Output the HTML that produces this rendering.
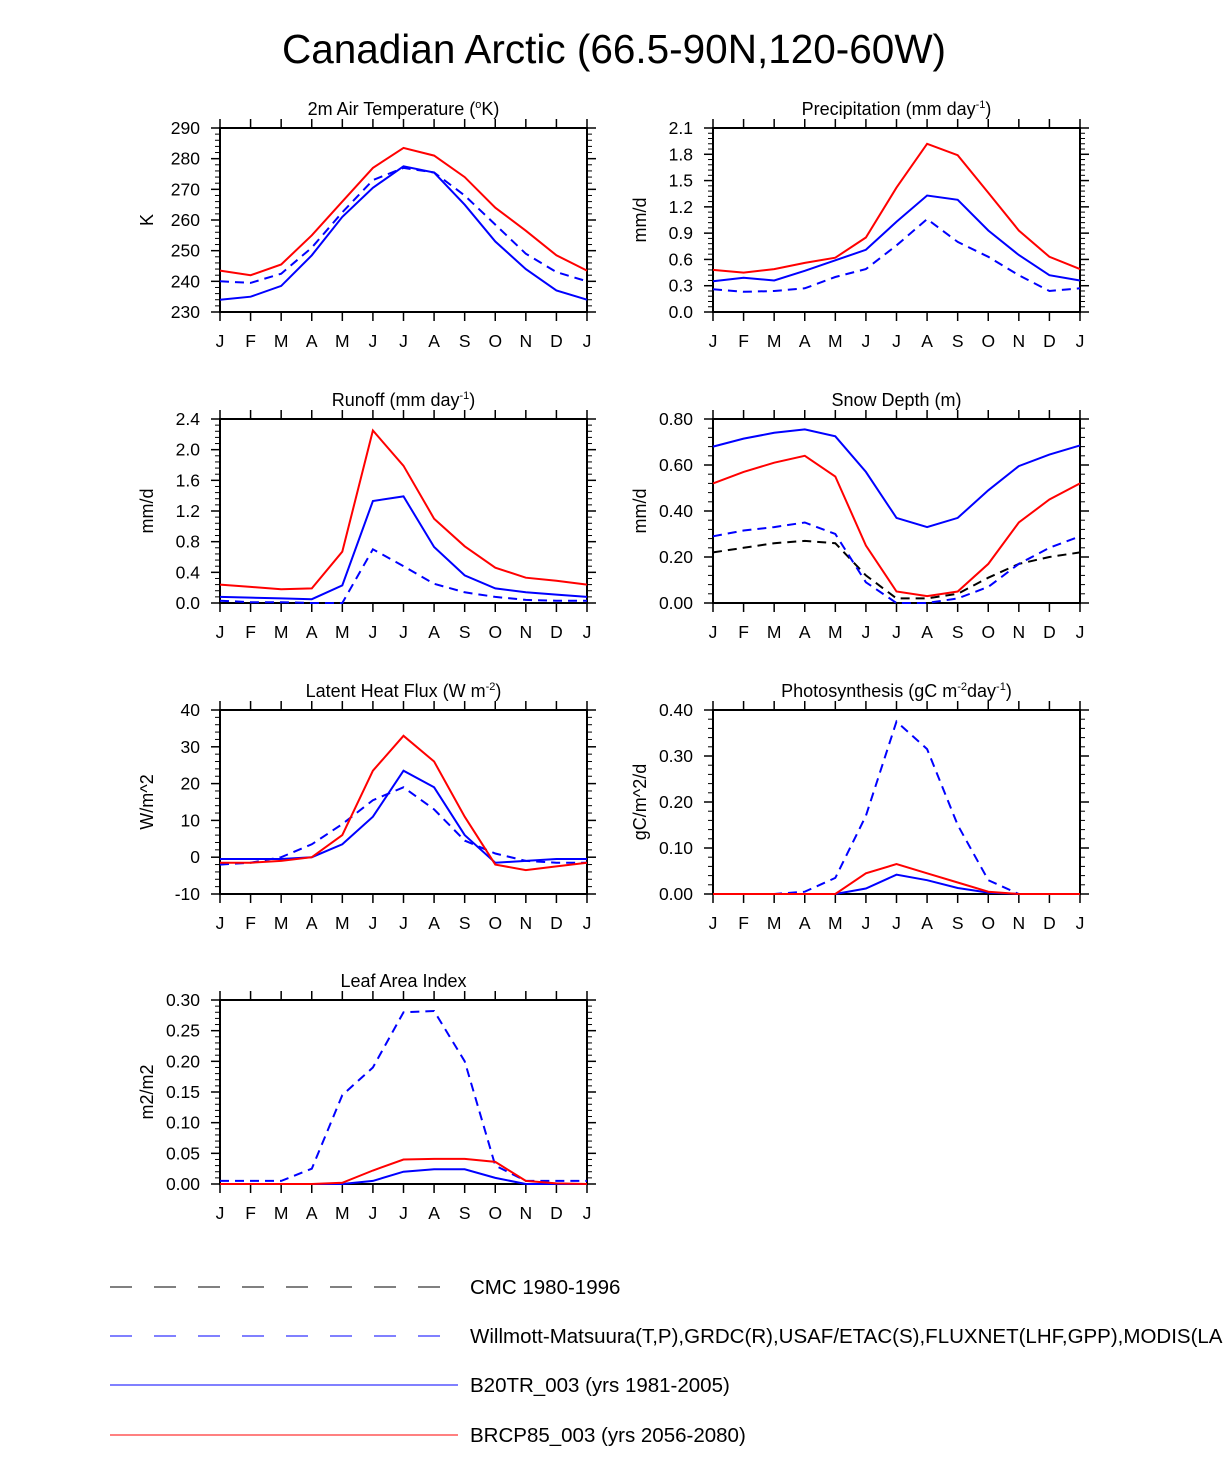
<!DOCTYPE html>
<html><head><meta charset="utf-8"><style>
body{margin:0;background:#fff;}
svg text{font-family:"Liberation Sans",sans-serif;fill:#000;}
</style></head><body>
<svg id="c" width="1224" height="1472" viewBox="0 0 1224 1472" xmlns="http://www.w3.org/2000/svg">
<text x="614" y="63" font-size="40.5" text-anchor="middle">Canadian Arctic (66.5-90N,120-60W)</text>
<g id="legend">
<line x1="110" y1="1287" x2="440" y2="1287" stroke="#000" stroke-width="1" stroke-dasharray="22,22"/>
<text x="470" y="1294" font-size="20.5">CMC 1980-1996</text>
<line x1="110" y1="1336" x2="440" y2="1336" stroke="#00f" stroke-width="1" stroke-dasharray="22,22"/>
<text x="470" y="1343" font-size="20.5">Willmott-Matsuura(T,P),GRDC(R),USAF/ETAC(S),FLUXNET(LHF,GPP),MODIS(LAI)</text>
<line x1="110" y1="1385" x2="458" y2="1385" stroke="#00f" stroke-width="1"/>
<text x="470" y="1392" font-size="20.5">B20TR_003 (yrs 1981-2005)</text>
<line x1="110" y1="1435" x2="458" y2="1435" stroke="#f00" stroke-width="1"/>
<text x="470" y="1442" font-size="20.5">BRCP85_003 (yrs 2056-2080)</text>
</g>
</svg>
<script>
const months=["J","F","M","A","M","J","J","A","S","O","N","D","J"];
const tempRed=[243.5,242,245.5,255,266,277,283.5,281,274,264,256.5,248.5,243.5];
const tempBlue=[234,235,238.5,248.5,261,270.5,277.5,275.5,265,253,244,237,234];
const tempObs=[240,239.5,242.5,251,262.5,273,277,275.5,268,258.5,249,243,240];
const precRed=[.48,.45,.49,.56,.62,.85,1.42,1.92,1.79,1.36,.93,.63,.49];
const precBlue=[.35,.39,.36,.47,.59,.71,1.03,1.33,1.28,.93,.65,.42,.36];
const precObs=[.26,.23,.24,.27,.40,.49,.76,1.06,.80,.63,.42,.24,.27];
const runRed=[.24,.21,.18,.19,.67,2.25,1.79,1.10,.74,.46,.33,.29,.24];
const runBlue=[.08,.07,.06,.05,.23,1.33,1.39,.73,.36,.19,.14,.11,.08];
const runObs=[.03,.01,.01,0,0,.70,.48,.25,.14,.08,.04,.03,.03];
const snowBlue=[.68,.715,.74,.755,.725,.57,.37,.33,.37,.49,.595,.645,.685];
const snowRed=[.52,.57,.61,.64,.55,.25,.05,.03,.05,.17,.35,.45,.52];
const snowObs=[.29,.315,.33,.35,.30,.09,0,0,.02,.07,.17,.24,.29];
const snowCmc=[.22,.24,.26,.27,.26,.12,.02,.02,.04,.11,.17,.20,.22];
const lhfRed=[-1.5,-1.5,-1,0,6,23.5,33,26,11,-2,-3.5,-2.5,-1.5];
const lhfBlue=[-.5,-.5,-.5,0,3.5,11,23.5,19,6,-1.5,-1,-.5,-.5];
const lhfObs=[-2,-1.5,0,3.5,9,15.5,19,13,4.5,1,-1,-1.5,-1.5];
const gppObs=[0,0,0,.005,.035,.17,.375,.315,.15,.03,0,0,0];
const gppRed=[0,0,0,0,0,.045,.065,.045,.025,.005,0,0,0];
const gppBlue=[0,0,0,0,0,.012,.042,.03,.013,.003,0,0,0];
const laiObs=[.005,.005,.005,.025,.145,.19,.28,.282,.2,.03,.005,.005,.005];
const laiRed=[0,0,0,0,.002,.022,.04,.041,.041,.036,.005,.001,0];
const laiBlue=[0,0,0,0,0,.005,.02,.024,.024,.01,0,0,0];
const tempTicks=["230","240","250","260","270","280","290"];
const precTicks=["0.0","0.3","0.6","0.9","1.2","1.5","1.8","2.1"];
const runTicks=["0.0","0.4","0.8","1.2","1.6","2.0","2.4"];
const snowTicks=["0.00","0.20","0.40","0.60","0.80"];
const lhfTicks=["-10","0","10","20","30","40"];
const gppTicks=["0.00","0.10","0.20","0.30","0.40"];
const laiTicks=["0.00","0.05","0.10","0.15","0.20","0.25","0.30"];

const NS="http://www.w3.org/2000/svg";
const svg=document.getElementById('c');
function mk(tag,attrs,parent){const e=document.createElementNS(NS,tag);for(const k in attrs)e.setAttribute(k,attrs[k]);parent.appendChild(e);return e;}

const panels=[
 {id:"temperature",title:[["2m Air Temperature (",0],["o",1],["K)",0]],ytitle:"K",x:220,y:128,ticks:tempTicks,series:[[tempObs,"#00f",1],[tempBlue,"#00f",0],[tempRed,"#f00",0]]},
 {id:"precipitation",title:[["Precipitation (mm day",0],["-1",1],[")",0]],ytitle:"mm/d",x:713,y:128,ticks:precTicks,series:[[precObs,"#00f",1],[precBlue,"#00f",0],[precRed,"#f00",0]]},
 {id:"runoff",title:[["Runoff (mm day",0],["-1",1],[")",0]],ytitle:"mm/d",x:220,y:419,ticks:runTicks,series:[[runObs,"#00f",1],[runBlue,"#00f",0],[runRed,"#f00",0]]},
 {id:"snow-depth",title:[["Snow Depth (m)",0]],ytitle:"mm/d",x:713,y:419,ticks:snowTicks,series:[[snowCmc,"#000",1],[snowObs,"#00f",1],[snowBlue,"#00f",0],[snowRed,"#f00",0]]},
 {id:"latent-heat",title:[["Latent Heat Flux (W m",0],["-2",1],[")",0]],ytitle:"W/m^2",x:220,y:710,ticks:lhfTicks,series:[[lhfObs,"#00f",1],[lhfBlue,"#00f",0],[lhfRed,"#f00",0]]},
 {id:"photosynthesis",title:[["Photosynthesis (gC m",0],["-2",1],["day",0],["-1",1],[")",0]],ytitle:"gC/m^2/d",x:713,y:710,ticks:gppTicks,series:[[gppObs,"#00f",1],[gppBlue,"#00f",0],[gppRed,"#f00",0]]},
 {id:"leaf-area-index",title:[["Leaf Area Index",0]],ytitle:"m2/m2",x:220,y:1000,ticks:laiTicks,series:[[laiObs,"#00f",1],[laiBlue,"#00f",0],[laiRed,"#f00",0]]}
];
const W=367,H=184;
panels.forEach(p=>{
 const g=mk('g',{},svg);
 
 
 const t0=parseFloat(p.ticks[0]),t1=parseFloat(p.ticks[p.ticks.length-1]);
 const sx=i=>p.x+i*W/12;
 const sy=v=>p.y+H-(v-t0)/(t1-t0)*H;
 const tt=mk('text',{x:p.x+W/2,y:p.y-13,'font-size':18,'text-anchor':'middle'},g);
 let prevSup=0;
 p.title.forEach(part=>{
  const ts=mk('tspan',{},tt);
  ts.textContent=part[0];
  if(part[1]){ts.setAttribute('font-size','11');ts.setAttribute('dy','-7');}
  else if(prevSup){ts.setAttribute('dy','7');}
  prevSup=part[1];
 });
 
 
 const yt=mk('text',{x:0,y:0,'font-size':18,'text-anchor':'middle',transform:`translate(${p.x-67},${p.y+H/2}) rotate(-90)`},g);
 yt.textContent=p.ytitle;
 
 
 const fr=mk('rect',{x:p.x,y:p.y,width:W,height:H,fill:'none',stroke:'#000','stroke-width':2},g);
 
 
 const n=p.ticks.length-1;
 for(let k=0;k<=n;k++){
  const v=parseFloat(p.ticks[k]);const yy=sy(v);
  mk('line',{x1:p.x-9,y1:yy,x2:p.x,y2:yy,stroke:'#000','stroke-width':1.5},g);
  mk('line',{x1:p.x+W,y1:yy,x2:p.x+W+9,y2:yy,stroke:'#000','stroke-width':1.5},g);
  const lb=mk('text',{x:p.x-20,y:yy+6,'font-size':17.5,'text-anchor':'end'},g);
  lb.textContent=p.ticks[k];
  
  
  if(k<n){for(let m=1;m<5;m++){const ym=yy-m*(H/n)/5;
   mk('line',{x1:p.x-5,y1:ym,x2:p.x,y2:ym,stroke:'#000','stroke-width':1},g);
   mk('line',{x1:p.x+W,y1:ym,x2:p.x+W+5,y2:ym,stroke:'#000','stroke-width':1},g);}}
 }
 months.forEach((m,i)=>{
  const xx=sx(i);
  mk('line',{x1:xx,y1:p.y-9,x2:xx,y2:p.y,stroke:'#000','stroke-width':1.5},g);
  mk('line',{x1:xx,y1:p.y+H,x2:xx,y2:p.y+H+9,stroke:'#000','stroke-width':1.5},g);
  const lb=mk('text',{x:xx,y:p.y+H+35,'font-size':17.5,'text-anchor':'middle'},g);
  lb.textContent=m;
  
  
 });
 p.series.forEach(s=>{
  const d=s[0].map((v,i)=>(i?'L':'M')+sx(i).toFixed(1)+','+sy(v).toFixed(1)).join(' ');
  const a={d:d,fill:'none',stroke:s[1],'stroke-width':2};
  if(s[2])a['stroke-dasharray']='9,6';
  const pa=mk('path',a,g);
  
  
 });
});
</script>
</body></html>
